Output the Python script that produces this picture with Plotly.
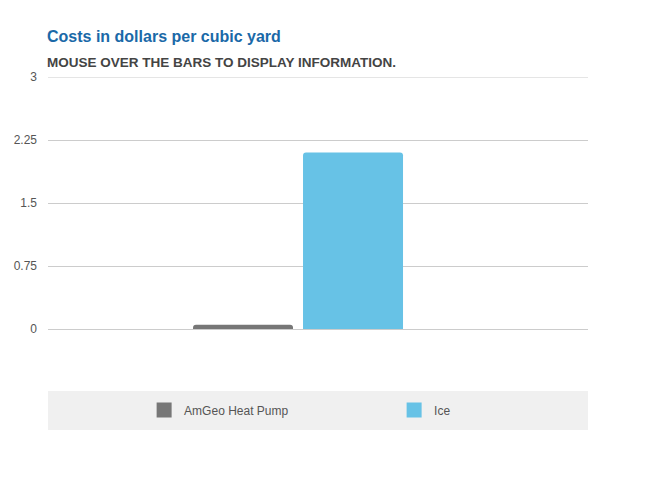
import plotly.graph_objects as go

series_names = ["AmGeo Heat Pump", "Ice"]
series_values = [0.05, 2.1]
series_colors = ["#777777", "#67c2e6"]
category = [""]
y_ticks = [0, 0.75, 1.5, 2.25, 3]
y_tick_labels = ["0", "0.75", "1.5", "2.25", "3"]

# page body has an 8px margin; compensate so the drawing lands where the reference is
OFF = 8
W, H = 667 - OFF, 488 - OFF
L, T = 48 - OFF, 77 - OFF
R = W - (588 - OFF)
B = H - (329 - OFF)
ph = H - T - B

def py(ypix):
    # ypix is a page pixel in the reference
    return ((329 - OFF) - (ypix - OFF)) / ph

fig = go.Figure()
for name, val, col in zip(series_names, series_values, series_colors):
    fig.add_trace(go.Bar(
        x=category, y=[val], name=name, marker_color=col,
        marker_line_width=0, legendgroup=name, showlegend=False,
        hovertemplate=name + ": %{y}<extra></extra>",
    ))
# legend entries with larger square swatches
for name, col in zip(series_names, series_colors):
    fig.add_trace(go.Scatter(
        x=[None], y=[None], mode="markers", name=name, legendgroup=name,
        marker=dict(symbol="square", size=15, color=col),
        showlegend=True, hoverinfo="skip",
    ))

fig.update_layout(
    width=W, height=H,
    margin=dict(l=L, r=R, t=T, b=B, autoexpand=False),
    paper_bgcolor="white", plot_bgcolor="white",
    font=dict(family="Liberation Sans, Arial, sans-serif", color="#555555", size=11),
    barmode="group", bargap=0.5926, bargroupgap=0.0909,
    barcornerradius=3,
    showlegend=True,
    legend=dict(
        orientation="h", x=0.178, xanchor="left", y=py(410), yanchor="middle",
        entrywidth=205, entrywidthmode="pixels",
        font=dict(size=12, color="#555555"), bgcolor="rgba(0,0,0,0)",
        itemclick=False, itemdoubleclick=False, itemsizing="trace",
    ),
    xaxis=dict(type="category", range=[-0.463, 0.537], showticklabels=False,
               showgrid=False, zeroline=False, showline=False, fixedrange=True,
               automargin=False),
    yaxis=dict(range=[0, 3], tickvals=y_ticks, ticktext=y_tick_labels,
               showgrid=True, gridcolor="#cccccc", gridwidth=1,
               zeroline=True, zerolinecolor="#cccccc", zerolinewidth=1,
               showline=False, ticks="", ticklabelstandoff=10, fixedrange=True,
               automargin=False, tickfont=dict(size=12, color="#555555")),
    shapes=[
        dict(type="rect", xref="paper", yref="paper", x0=0, x1=1,
             y0=py(430), y1=py(391), fillcolor="#f0f0f0", line_width=0,
             layer="below"),
        dict(type="line", xref="paper", yref="y", x0=0, x1=1,
             y0=y_ticks[-1], y1=y_ticks[-1], line=dict(color="#cccccc", width=1),
             layer="below"),
    ],
    annotations=[
        dict(text="<b>Costs in dollars per cubic yard</b>", xref="paper", yref="paper",
             x=-0.005, y=py(37), xanchor="left", yanchor="middle", showarrow=False,
             font=dict(size=16, color="#1a69a8")),
        dict(text="<b>MOUSE OVER THE BARS TO DISPLAY INFORMATION.</b>", xref="paper", yref="paper",
             x=-0.005, y=py(63), xanchor="left", yanchor="middle", showarrow=False,
             font=dict(size=13.5, color="#444444")),
    ],
)

fig.write_html("out.html")
